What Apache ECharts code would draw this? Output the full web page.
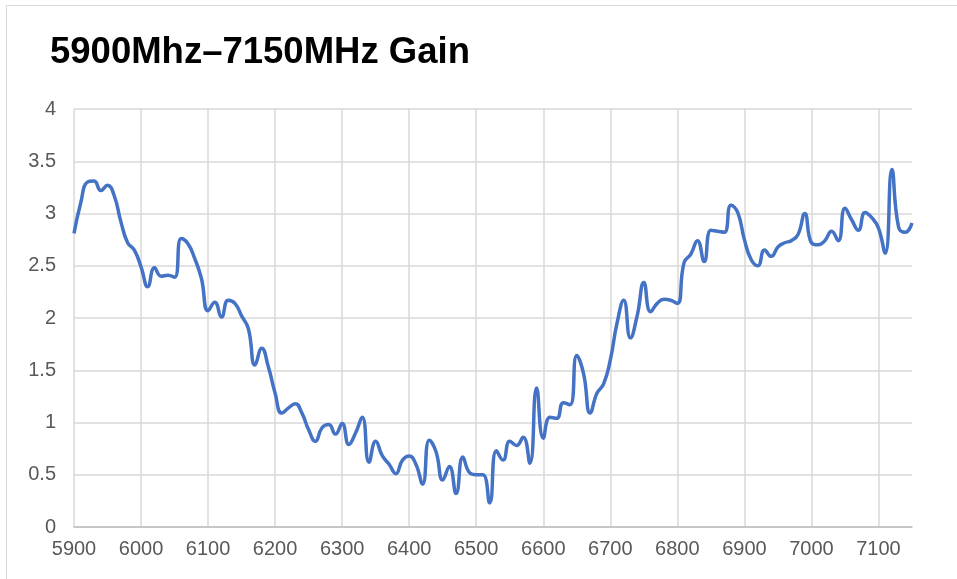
<!DOCTYPE html>
<html>
<head>
<meta charset="utf-8">
<script src="https://cdn.jsdelivr.net/npm/echarts@6/dist/echarts.min.js"></script>
<style>
    html, body { margin: 0; padding: 0; background: #fff; }
    #chart { width: 957px; height: 579px; }
</style>
</head>
<body>
<div id="chart"></div>
<script>
// frequency axis: 5900 .. 7150 MHz, one reading every 10 MHz
var freqStart = 5900;
var freqStep = 10;

// gain readings, one per step
var gain = [
    2.81, 3.10, 3.30, 3.31, 3.22, 3.27, 3.17, 2.92, 2.72, 2.65,   // 5900-5990
    2.49, 2.30, 2.48, 2.40, 2.41, 2.39, 2.76, 2.71, 2.57, 2.38,   // 6000-6090
    2.07, 2.15, 2.01, 2.17, 2.14, 2.02, 1.90, 1.55, 1.71, 1.53,   // 6100-6190
    1.28, 1.09, 1.14, 1.18, 1.09, 0.93, 0.82, 0.95, 0.98, 0.89,   // 6200-6290
    0.99, 0.79, 0.90, 1.05, 0.62, 0.82, 0.68, 0.60, 0.51, 0.64,   // 6300-6390
    0.68, 0.60, 0.41, 0.83, 0.72, 0.45, 0.58, 0.32, 0.67, 0.52,   // 6400-6490
    0.50, 0.50, 0.23, 0.73, 0.64, 0.82, 0.78, 0.86, 0.61, 1.33,   // 6500-6590
    0.85, 1.05, 1.04, 1.19, 1.17, 1.64, 1.47, 1.09, 1.28, 1.37,   // 6600-6690
    1.60, 1.95, 2.17, 1.81, 2.02, 2.34, 2.06, 2.14, 2.18, 2.17,   // 6700-6790
    2.14, 2.53, 2.61, 2.74, 2.54, 2.84, 2.83, 2.82, 3.08, 3.01,   // 6800-6890
    2.75, 2.56, 2.50, 2.65, 2.59, 2.68, 2.72, 2.74, 2.80, 3.00,   // 6900-6990
    2.72, 2.70, 2.74, 2.83, 2.74, 3.05, 2.94, 2.84, 3.01, 2.96,   // 7000-7090
    2.86, 2.62, 3.42, 2.87, 2.82, 2.91                            // 7100-7150
];

var titleText = '5900Mhz\u20137150MHz Gain';

var points = [];
for (var i = 0; i < gain.length; i++) {
    points.push([freqStart + i * freqStep, gain[i]]);
}

// 13 grid lines (5900..7100) + the edge at 7150 which stays hidden
var vLineColors = [];
for (var k = 0; k < 13; k++) vLineColors.push('#d9d9d9');
vLineColors.push('rgba(0,0,0,0)');

var myChart = echarts.init(document.getElementById('chart'));

var option = {
    animation: false,
    backgroundColor: '#fff',
    title: {
        text: titleText,
        left: 45,
        top: 29,
        textStyle: {
            fontFamily: 'Liberation Sans, Arial, sans-serif',
            fontSize: 36.5,
            fontWeight: 'bold',
            color: '#000'
        }
    },
    graphic: [{
        type: 'rect',
        shape: { x: 6.5, y: 5.5, width: 1000, height: 1000 },
        style: { fill: 'none', stroke: '#d9d9d9', lineWidth: 1 },
        silent: true
    }],
    grid: {
        left: 74,
        right: 45,
        top: 109,
        bottom: 52
    },
    xAxis: {
        type: 'value',
        min: 5900,
        max: 7150,
        interval: 100,
        axisLine: { show: true, lineStyle: { color: '#bfbfbf', width: 1.5 } },
        axisTick: { show: false },
        axisLabel: {
            showMaxLabel: false,
            margin: 12,
            fontFamily: 'Liberation Sans, Arial, sans-serif',
            fontSize: 20,
            color: '#595959',
            formatter: function (v) { return String(v); }
        },
        splitLine: { show: true, lineStyle: { color: vLineColors, width: 1.5 } }
    },
    yAxis: {
        type: 'value',
        min: 0,
        max: 4,
        interval: 0.5,
        axisLine: { show: false },
        axisTick: { show: false },
        axisLabel: {
            margin: 18,
            fontFamily: 'Liberation Sans, Arial, sans-serif',
            fontSize: 20,
            color: '#595959'
        },
        splitLine: { show: true, lineStyle: { color: '#d9d9d9', width: 1.5 } }
    },
    series: [{
        name: 'Gain',
        type: 'line',
        data: points,
        smooth: 0.5,
        symbol: 'none',
        lineStyle: { color: '#4472c4', width: 3.5 }
    }]
};

myChart.setOption(option);
</script>
</body>
</html>
